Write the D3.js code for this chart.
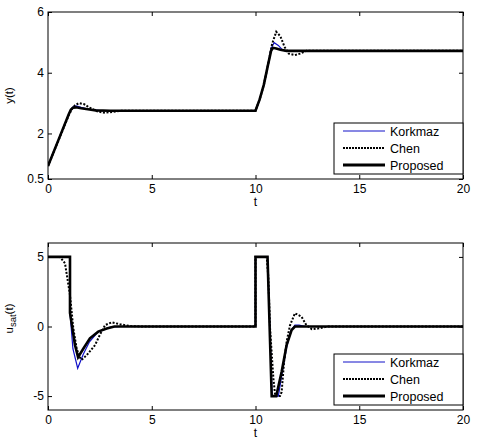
<!DOCTYPE html>
<html>
<head>
<meta charset="utf-8">
<script src="https://cdn.jsdelivr.net/npm/d3@7"></script>
<style>
body{margin:0;background:#fff;}
text{font-family:"Liberation Sans",Arial,sans-serif;}
</style>
</head>
<body>
<svg id="chart" width="477" height="445"></svg>
<script>
// ---------- DATA ----------
const seriesNames = ["Korkmaz", "Chen", "Proposed"];
const xTicks = [0, 5, 10, 15, 20];
const yTicksTop = [0.5, 2, 4, 6];
const yTicksBottom = [-5, 0, 5];

// Top plot: y(t)
const korkmazYt = [0,0.5,1.0,1.1,1.2,1.35,1.6,2.0,2.5,3,10,10.2,10.4,10.6,10.75,10.9,11.1,11.3,11.5,12,20];
const korkmazY  = [0.93,1.78,2.63,2.78,2.87,2.91,2.86,2.79,2.75,2.75,2.75,3.12,3.6,4.25,4.8,4.99,4.9,4.75,4.7,4.72,4.72];
const chenYt = [0,0.5,1.0,1.15,1.3,1.5,1.75,2.0,2.4,2.75,3.1,3.5,10,10.2,10.4,10.6,10.8,11.0,11.2,11.4,11.6,11.9,12.15,12.45,20];
const chenY  = [0.93,1.76,2.6,2.8,2.93,3.0,2.96,2.85,2.72,2.68,2.71,2.75,2.75,3.12,3.6,4.25,4.95,5.35,5.2,4.85,4.63,4.58,4.63,4.72,4.72];
const propYt = [0,0.5,1.0,1.1,1.2,1.35,1.6,2.0,2.3,3,10,10.2,10.4,10.6,10.75,10.85,11.0,11.2,11.5,12,20];
const propY  = [0.93,1.78,2.63,2.78,2.85,2.86,2.83,2.79,2.76,2.75,2.75,3.12,3.6,4.25,4.72,4.82,4.8,4.76,4.72,4.72,4.72];

// Bottom plot: u_sat(t)
const korkmazUt = [0,1.06,1.06,1.2,1.43,1.7,2.0,2.4,3.0,3.5,10,10,10.58,10.8,11.1,11.3,11.5,11.7,11.9,12.1,12.4,20];
const korkmazU  = [5,5,1.0,-1.6,-3.0,-2.0,-1.1,-0.4,-0.05,0,0,5,5,-5,-5,-3.2,-1.5,-0.3,0.1,0.1,0,0];
const chenUt = [0,0.58,0.82,1.06,1.22,1.38,1.51,1.62,1.87,2.27,2.5,2.75,3.07,3.5,4.0,4.5,10,10,10.54,10.62,10.7,10.86,10.95,11.18,11.26,11.38,11.5,11.66,11.9,12.22,12.45,12.72,13.0,13.5,20];
const chenU  = [5,5,4.54,2.26,-0.13,-1.57,-2.17,-2.4,-2.05,-1.33,-0.6,0.1,0.3,0.15,0.03,0,0,5,5,3.5,-0.1,-3.7,-5,-5,-4.7,-2.5,-1.1,0.07,0.95,0.7,0.1,-0.2,-0.15,0,0];
const propUt = [0,1.06,1.06,1.3,1.45,1.7,2.02,2.42,2.83,3.2,10,10,10.58,10.78,11.0,11.26,11.5,11.74,11.9,20];
const propU  = [5,5,0.97,-1.33,-2.2,-1.6,-0.85,-0.37,-0.15,0,0,5,5,-5,-5,-3.25,-1.33,-0.25,0,0];

// ---------- DRAW ----------
const svg = d3.select("#chart");
const W = 415, H = 167, L = 48;
const colors = {Korkmaz:"#1010c8", Chen:"#000", Proposed:"#000"};
const widths = {Korkmaz:1.2, Chen:2, Proposed:2.6};
const dashes = {Korkmaz:null, Chen:"2,1.6", Proposed:null};

function zip(t, v){ return t.map((d,i)=>[d, v[i]]); }

function panel(top, yDomain, yTicks, data, ylabelFn){
  const g = svg.append("g").attr("transform", `translate(${L},${top})`);
  const x = d3.scaleLinear().domain([0,20]).range([0,W]);
  const y = d3.scaleLinear().domain(yDomain).range([H,0]);

  g.append("defs").append("clipPath").attr("id","clip"+top)
    .append("rect").attr("width",W).attr("height",H);

  const line = d3.line().x(d=>x(d[0])).y(d=>y(d[1]));
  const lines = g.append("g").attr("clip-path",`url(#clip${top})`);
  ["Korkmaz","Chen","Proposed"].forEach(name=>{
    lines.append("path").datum(data[name])
      .attr("d", line).attr("fill","none")
      .attr("stroke", colors[name]).attr("stroke-width", widths[name])
      .attr("stroke-dasharray", dashes[name]);
  });

  const fmt = d=>String(d);
  const ax = (axis, tr, labels)=>{
    const a = g.append("g").attr("transform", tr).call(axis);
    a.select(".domain").remove();
    a.selectAll("line").attr("stroke","#000");
    a.selectAll("text").attr("font-size","12px").attr("fill","#000");
    if(!labels) a.selectAll("text").remove();
    return a;
  };
  ax(d3.axisBottom(x).tickValues(xTicks).tickFormat(fmt).tickSize(-4).tickPadding(5), `translate(0,${H})`, true);
  ax(d3.axisTop(x).tickValues(xTicks).tickSize(-4), `translate(0,0)`, false);
  ax(d3.axisLeft(y).tickValues(yTicks).tickFormat(fmt).tickSize(-4).tickPadding(4), `translate(0,0)`, true);
  ax(d3.axisRight(y).tickValues(yTicks).tickSize(-4), `translate(${W},0)`, false);

  g.append("rect").attr("width",W).attr("height",H).attr("fill","none").attr("stroke","#000").attr("stroke-width",1);

  // x label
  g.append("text").attr("x", x(10)).attr("y", H+27).attr("text-anchor","middle")
    .attr("font-size","12px").text("t");
  ylabelFn(g);

  // legend
  const lg = g.append("g").attr("transform", `translate(${334-L},${H-56})`);
  lg.append("rect").attr("width",129).attr("height",51).attr("fill","#fff").attr("stroke","#000").attr("stroke-width",1);
  seriesNames.forEach((name,i)=>{
    const yy = 8 + i*17;
    lg.append("line").attr("x1",9).attr("x2",51).attr("y1",yy).attr("y2",yy)
      .attr("stroke",colors[name]).attr("stroke-width",name==="Korkmaz"?1:(name==="Chen"?2:3))
      .attr("stroke-dasharray", name==="Chen"?"2,1":null);
    lg.append("text").attr("x",56).attr("y",yy+4.5).attr("font-size","12.5px").text(name);
  });
}

panel(12, [0.5,6], yTicksTop,
  {Korkmaz:zip(korkmazYt,korkmazY), Chen:zip(chenYt,chenY), Proposed:zip(propYt,propY)},
  g=>{
    g.append("text").attr("transform",`translate(${-39},${H/2}) rotate(-90)`)
      .attr("text-anchor","middle").attr("dy","0.35em").attr("font-size","11.5px").text("y(t)");
  });

panel(243, [-6,6], yTicksBottom,
  {Korkmaz:zip(korkmazUt,korkmazU), Chen:zip(chenUt,chenU), Proposed:zip(propUt,propU)},
  g=>{
    const t = g.append("text").attr("transform",`translate(${-35},${H/2 - 8}) rotate(-90)`)
      .attr("text-anchor","middle").attr("font-size","11.5px");
    t.append("tspan").text("u");
    t.append("tspan").attr("font-size","9.5px").attr("dy","3").text("sat");
    t.append("tspan").attr("dy","-3").text("(t)");
  });
</script>
</body>
</html>
